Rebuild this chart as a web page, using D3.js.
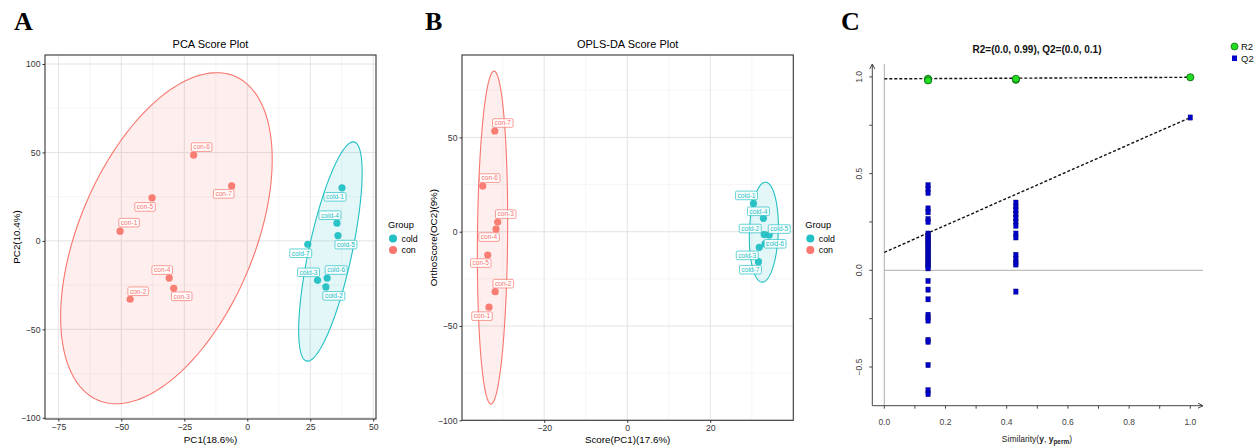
<!DOCTYPE html>
<html>
<head>
<meta charset="utf-8">
<script src="https://cdn.jsdelivr.net/npm/d3@7"></script>
<style>
  body { margin: 0; background: #fff; }
  svg { display: block; font-family: "Liberation Sans", Arial, sans-serif; }
</style>
</head>
<body>
<div id="chart"></div>
<script>
// ---- data ----
const groups = ["cold", "con"];
const groupColors = ["#22C0C4", "#F8766D"];

// PCA scores (PC1, PC2)
const pcaNames = ["con-1","con-2","con-3","con-4","con-5","con-6","con-7",
                  "cold-1","cold-2","cold-3","cold-4","cold-5","cold-6","cold-7"];
const pcaX = [-50.5,-46.5,-29.2,-31,-37.8,-21.3,-6.2, 37.6,31.2,27.9,35.6,36,31.7,24];
const pcaY = [5.5,-33,-26.8,-21,24.3,48.5,31.1, 30,-26,-22.3,10,3,-21,-1.9];

// OPLS-DA scores (PC1, OC2)
const oplsNames = pcaNames;
const oplsX = [-33.3,-31.8,-31.2,-31.6,-33.6,-34.8,-31.9, 30.4,33,31.8,32.8,34.2,33.2,31.6];
const oplsY = [-40,-31.8,5.1,1.4,-12.4,24.2,53.4, 15,-1.5,-8.3,7.1,-1.8,-6.4,-15.9];

// confidence ellipses: centre, half-width, half-height, correlation  [cold, con]
const pcaEllipse  = { cx: [33, -32.1], cy: [-6, 1.5], hx: [12.6, 42], hy: [62, 93.6], r: [0.72, 0.475] };
const oplsEllipse = { cx: [32.9, -32.45], cy: [-0.25, -3.1], hx: [3.5, 3.65], hy: [26.5, 88.3], r: [0.11, 0.1] };

// permutation test
const r2X = [0.143, 0.143, 0.143, 0.43, 0.43, 1.0];
const r2Y = [0.985, 0.99, 0.982, 0.985, 0.99, 0.998];
const q2X143 = [0.44,0.42,0.40,0.32,0.30,0.265,0.25,0.19,0.18,0.17,0.16,0.15,0.14,0.13,0.12,0.11,
                0.10,0.09,0.08,0.07,0.06,0.05,0.04,0.03,0.02,0.01,-0.055,-0.10,-0.15,-0.23,-0.245,
                -0.26,-0.36,-0.37,-0.49,-0.62,-0.64];
const q2X43 = [0.35,0.33,0.31,0.29,0.27,0.25,0.23,0.19,0.17,0.08,0.06,0.04,0.03,-0.11];
const q2Orig = 0.79;
const r2Line = [0.99, 0.998];   // intercept, value at 1
const q2Line = [0.093, 0.79];

// ---- layout ----
const W = 1260, H = 446;
const svg = d3.select("#chart").append("svg").attr("width", W).attr("height", H);

const letterFont = '"Liberation Serif", "Times New Roman", serif';
[["A", 14], ["B", 425], ["C", 841]].forEach(([t, x]) => {
  svg.append("text").attr("x", x).attr("y", 30).text(t)
    .attr("font-family", letterFont).attr("font-weight", "bold").attr("font-size", 26).attr("fill", "#000");
});

// label offsets (px) for the repelled labels
const pcaLabelOff = {
  "con-1":[9,-8.5],"con-2":[8,-8],"con-3":[8,8],"con-4":[-7,-8],"con-5":[-7,9],"con-6":[8,-8],"con-7":[-8,8],
  "cold-1":[-7,9],"cold-2":[8,9],"cold-3":[-9,-8],"cold-4":[-7,-8],"cold-5":[8,9],"cold-6":[9,-8],"cold-7":[-7,9]
};
const oplsLabelOff = {
  "con-1":[-7,9],"con-2":[8,-8],"con-3":[8,-8],"con-4":[-7,8],"con-5":[-7,8],"con-6":[7,-8],"con-7":[8,-8],
  "cold-1":[-7,-8],"cold-2":[-14,-6],"cold-3":[-12,8],"cold-4":[-5,-7],"cold-5":[10,-6],"cold-6":[10,0],"cold-7":[-8,8]
};

function groupOf(name) { return name.startsWith("cold") ? 0 : 1; }

function scorePlot(cfg) {
  const g = svg.append("g");
  const x = d3.scaleLinear().domain(cfg.xDomain).range([cfg.left, cfg.right]);
  const y = d3.scaleLinear().domain(cfg.yDomain).range([cfg.bottom, cfg.top]);

  g.append("rect").attr("x", cfg.left).attr("y", cfg.top)
    .attr("width", cfg.right - cfg.left).attr("height", cfg.bottom - cfg.top).attr("fill", "#fff");

  // grid
  cfg.xMinor.forEach(v => g.append("line").attr("x1", x(v)).attr("x2", x(v)).attr("y1", cfg.top).attr("y2", cfg.bottom)
    .attr("stroke", "#F0F0F0").attr("stroke-width", 0.7));
  cfg.yMinor.forEach(v => g.append("line").attr("y1", y(v)).attr("y2", y(v)).attr("x1", cfg.left).attr("x2", cfg.right)
    .attr("stroke", "#F0F0F0").attr("stroke-width", 0.7));
  cfg.xTicks.forEach(v => g.append("line").attr("x1", x(v)).attr("x2", x(v)).attr("y1", cfg.top).attr("y2", cfg.bottom)
    .attr("stroke", "#E3E3E3").attr("stroke-width", 1));
  cfg.yTicks.forEach(v => g.append("line").attr("y1", y(v)).attr("y2", y(v)).attr("x1", cfg.left).attr("x2", cfg.right)
    .attr("stroke", "#E3E3E3").attr("stroke-width", 1));

  // ellipses
  const E = cfg.ellipse;
  const ts = d3.range(0, 2 * Math.PI + 0.01, Math.PI / 90);
  groups.forEach((grp, i) => {
    const pts = ts.map(t => [
      x(E.cx[i] + E.hx[i] * Math.cos(t)),
      y(E.cy[i] + E.hy[i] * (E.r[i] * Math.cos(t) + Math.sqrt(1 - E.r[i] * E.r[i]) * Math.sin(t)))
    ]);
    g.append("path").attr("d", d3.line()(pts) + "Z")
      .attr("fill", groupColors[i]).attr("fill-opacity", 0.12)
      .attr("stroke", groupColors[i]).attr("stroke-width", 1.1);
  });

  // points
  cfg.names.forEach((n, k) => {
    g.append("circle").attr("cx", x(cfg.xs[k])).attr("cy", y(cfg.ys[k])).attr("r", 3.6)
      .attr("fill", groupColors[groupOf(n)]).attr("fill-opacity", 0.95);
  });

  // labels
  cfg.names.forEach((n, k) => {
    const c = groupColors[groupOf(n)];
    const off = cfg.labelOff[n];
    const lx = x(cfg.xs[k]) + off[0], ly = y(cfg.ys[k]) + off[1];
    const lg = g.append("g");
    const box = lg.append("rect");
    const tx = lg.append("text").attr("x", lx).attr("y", ly + 2.3).attr("text-anchor", "middle")
      .attr("font-size", 6.6).attr("fill", c).text(n);
    const w = tx.node().getComputedTextLength() + 4;
    box.attr("x", lx - w / 2).attr("y", ly - 4.3).attr("width", w).attr("height", 8.6)
      .attr("rx", 1.3).attr("fill", "#fff").attr("fill-opacity", 0.85)
      .attr("stroke", c).attr("stroke-width", 0.7);
  });

  // border
  g.append("rect").attr("x", cfg.left).attr("y", cfg.top)
    .attr("width", cfg.right - cfg.left).attr("height", cfg.bottom - cfg.top)
    .attr("fill", "none").attr("stroke", "#333").attr("stroke-width", 1.1);

  // axes
  const xAxis = g.append("g").attr("transform", `translate(0,${cfg.bottom})`)
    .call(d3.axisBottom(x).tickValues(cfg.xTicks).tickSize(2.5).tickPadding(2).tickFormat(d3.format("d")));
  const yAxis = g.append("g").attr("transform", `translate(${cfg.left},0)`)
    .call(d3.axisLeft(y).tickValues(cfg.yTicks).tickSize(2.5).tickPadding(2).tickFormat(d3.format("d")));
  [xAxis, yAxis].forEach(a => {
    a.select(".domain").remove();
    a.selectAll("line").attr("stroke", "#333");
    a.selectAll("text").attr("fill", "#333").attr("font-size", 8.7).attr("font-family", "Liberation Sans, Arial");
  });

  // titles
  const cxm = (cfg.left + cfg.right) / 2;
  g.append("text").attr("x", cxm).attr("y", 48).attr("text-anchor", "middle")
    .attr("font-size", 11).attr("fill", "#000").text(cfg.title);
  g.append("text").attr("x", cxm).attr("y", 443).attr("text-anchor", "middle")
    .attr("font-size", 9.8).attr("fill", "#000").text(cfg.xTitle);
  g.append("text").attr("transform", `translate(${cfg.yTitleX},${(cfg.top + cfg.bottom) / 2}) rotate(-90)`)
    .attr("text-anchor", "middle").attr("font-size", 9.8).attr("fill", "#000").text(cfg.yTitle);

  // legend
  const lgx = cfg.right + 12;
  g.append("text").attr("x", lgx).attr("y", 228).attr("font-size", 9.3).attr("fill", "#000").text("Group");
  groups.forEach((grp, i) => {
    g.append("circle").attr("cx", lgx + 5).attr("cy", 238.5 + i * 11.5).attr("r", 4).attr("fill", groupColors[i]);
    g.append("text").attr("x", lgx + 13.5).attr("y", 241.7 + i * 11.5).attr("font-size", 8.8).attr("fill", "#000").text(grp);
  });
}

scorePlot({
  left: 45, right: 376, top: 55, bottom: 419,
  xDomain: [-80.3, 51.1], yDomain: [-100.7, 105.1],
  xTicks: [-75, -50, -25, 0, 25, 50], yTicks: [-100, -50, 0, 50, 100],
  xMinor: [-62.5, -37.5, -12.5, 12.5, 37.5], yMinor: [-75, -25, 25, 75],
  ellipse: pcaEllipse, names: pcaNames, xs: pcaX, ys: pcaY, labelOff: pcaLabelOff,
  title: "PCA Score Plot", xTitle: "PC1(18.6%)", yTitle: "PC2(10.4%)", yTitleX: 20
});

scorePlot({
  left: 462, right: 793.3, top: 55, bottom: 420.3,
  xDomain: [-39.8, 40], yDomain: [-100, 93.7],
  xTicks: [-20, 0, 20], yTicks: [-100, -50, 0, 50],
  xMinor: [-30, -10, 10, 30], yMinor: [-75, -25, 25, 75],
  ellipse: oplsEllipse, names: oplsNames, xs: oplsX, ys: oplsY, labelOff: oplsLabelOff,
  title: "OPLS-DA Score Plot", xTitle: "Score(PC1)(17.6%)", yTitle: "OrthoScore(OC2)(9%)", yTitleX: 437
});

// ---- panel C: permutation plot ----
(function () {
  const g = svg.append("g");
  const narrow = '"Liberation Sans Narrow", "Liberation Sans", Arial, sans-serif';
  const axL = 872.3, axB = 405.7, axR = 1203, axT = 64;
  const x = d3.scaleLinear().domain([0, 1]).range([884.3, 1190.3]);
  const y = d3.scaleLinear().domain([0, 1]).range([270.3, 76.9]);

  // reference lines
  g.append("line").attr("x1", x(0)).attr("x2", x(0)).attr("y1", axT).attr("y2", axB).attr("stroke", "#999").attr("stroke-width", 0.8);
  g.append("line").attr("x1", x(0)).attr("x2", axR).attr("y1", y(0)).attr("y2", y(0)).attr("stroke", "#999").attr("stroke-width", 0.8);

  // axes with arrows
  const ax = g.append("g").attr("stroke", "#444").attr("stroke-width", 1).attr("fill", "none");
  ax.append("path").attr("d", `M${axL},${axB}V${axT}M${axL - 2.5},${axT + 5}L${axL},${axT}L${axL + 2.5},${axT + 5}`);
  ax.append("path").attr("d", `M${axL},${axB}H${axR}M${axR - 5},${axB - 2.5}L${axR},${axB}L${axR - 5},${axB + 2.5}`);

  const yMinorTicks = [-0.5, -0.25, 0, 0.25, 0.5, 0.75, 1];
  const yLabelTicks = [-0.5, 0, 0.5, 1];
  const xMinorTicks = [0, 0.1, 0.2, 0.3, 0.4, 0.5, 0.6, 0.7, 0.8, 0.9, 1];
  const xLabelTicks = [0, 0.2, 0.4, 0.6, 0.8, 1];
  yMinorTicks.forEach(v => ax.append("line").attr("x1", axL - 3).attr("x2", axL).attr("y1", y(v)).attr("y2", y(v)));
  xMinorTicks.forEach(v => ax.append("line").attr("x1", x(v)).attr("x2", x(v)).attr("y1", axB).attr("y2", axB + 3));
  yLabelTicks.forEach(v => g.append("text")
    .attr("transform", `translate(${axL - 10},${y(v)}) rotate(-90)`).attr("text-anchor", "middle")
    .attr("font-family", narrow).attr("font-size", 8.5).attr("fill", "#444").text(d3.format(".1f")(v)));
  xLabelTicks.forEach(v => g.append("text")
    .attr("x", x(v)).attr("y", axB + 19).attr("text-anchor", "middle")
    .attr("font-family", narrow).attr("font-size", 8.5).attr("fill", "#444").text(d3.format(".1f")(v)));

  // regression lines
  g.append("line").attr("x1", x(0)).attr("x2", x(1)).attr("y1", y(r2Line[0])).attr("y2", y(r2Line[1]))
    .attr("stroke", "#111").attr("stroke-width", 1.4).attr("stroke-dasharray", "3,2");
  g.append("line").attr("x1", x(0)).attr("x2", x(1)).attr("y1", y(q2Line[0])).attr("y2", y(q2Line[1]))
    .attr("stroke", "#111").attr("stroke-width", 1.4).attr("stroke-dasharray", "3,2");

  // Q2 squares
  const q2pts = q2X143.map(v => [0.143, v]).concat(q2X43.map(v => [0.43, v])).concat([[1, q2Orig]]);
  q2pts.forEach(([a, b]) => g.append("rect").attr("x", x(a) - 2.2).attr("y", y(b) - 2.6)
    .attr("width", 4.4).attr("height", 5.2).attr("fill", "#0000CC").attr("stroke", "#00006A").attr("stroke-width", 0.4));

  // R2 circles
  r2X.forEach((a, k) => g.append("circle").attr("cx", x(a)).attr("cy", y(r2Y[k])).attr("r", 3.6)
    .attr("fill", "#22DD22").attr("stroke", "#0B5E0B").attr("stroke-width", 0.8));

  // title
  g.append("text").attr("x", 1037).attr("y", 53).attr("text-anchor", "middle")
    .attr("font-family", narrow).attr("font-weight", "bold").attr("font-size", 10).attr("fill", "#111")
    .text("R2=(0.0, 0.99), Q2=(0.0, 0.1)");

  // x title
  const xt = g.append("text").attr("x", 1037).attr("y", 442).attr("text-anchor", "middle")
    .attr("font-family", narrow).attr("font-size", 8.5).attr("fill", "#222");
  xt.append("tspan").text("Similarity(");
  xt.append("tspan").attr("font-weight", "bold").text("y");
  xt.append("tspan").text(", ");
  xt.append("tspan").attr("font-weight", "bold").text("y");
  xt.append("tspan").attr("font-weight", "bold").attr("font-size", 6.5).attr("dy", 2).text("perm");
  xt.append("tspan").attr("dy", -2).text(")");

  // legend
  g.append("circle").attr("cx", 1234.5).attr("cy", 46.5).attr("r", 3.5)
    .attr("fill", "#22DD22").attr("stroke", "#0B5E0B").attr("stroke-width", 0.7);
  g.append("text").attr("x", 1241).attr("y", 49.8).attr("font-family", narrow).attr("font-size", 9.5).attr("fill", "#111").text("R2");
  g.append("rect").attr("x", 1232).attr("y", 55.5).attr("width", 5).attr("height", 5.5).attr("fill", "#0000CC");
  g.append("text").attr("x", 1241).attr("y", 61.5).attr("font-family", narrow).attr("font-size", 9.5).attr("fill", "#111").text("Q2");
})();
</script>
</body>
</html>
